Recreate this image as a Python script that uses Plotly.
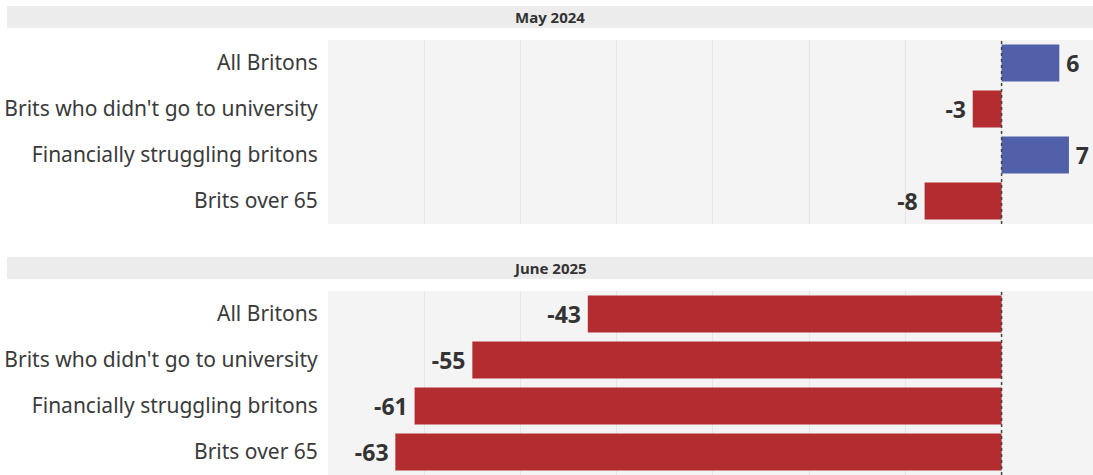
import plotly.graph_objects as go

categories = ["All Britons", "Brits who didn't go to university",
              "Financially struggling britons", "Brits over 65"]
may_2024 = [6, -3, 7, -8]
june_2025 = [-43, -55, -61, -63]
panel_titles = ["May 2024", "June 2025"]

BLUE = "#5061aa"
RED = "#b22c30"
TEXT = "#333333"
FONT = "Noto Sans"

fig = go.Figure()

# pixel layout of the two panels (paper coords)
H = 475
panels = [
    dict(vals=may_2024, plot=(40, 224), strip=(6, 28)),
    dict(vals=june_2025, plot=(291, 475), strip=(257, 279)),
]

for i, p in enumerate(panels):
    n = "" if i == 0 else str(i + 1)
    colors = [BLUE if v > 0 else RED for v in p["vals"]]
    # thin space pads the label away from the bar end
    labels = ["\u2009" + str(v) if v > 0 else str(v) + "\u2009" for v in p["vals"]]
    fig.add_trace(go.Bar(
        x=p["vals"], y=categories, orientation="h",
        marker=dict(color=colors, line=dict(width=0)),
        text=labels, texttemplate="%{text}",
        textposition="outside",
        textfont=dict(family=FONT, size=23, color=TEXT, weight="bold"),
        cliponaxis=False, showlegend=False,
        xaxis="x" + n, yaxis="y" + n,
    ))
    y0, y1 = 1 - p["plot"][1] / H, 1 - p["plot"][0] / H
    fig.layout["xaxis" + n] = dict(
        domain=[328 / 1093, 1], range=[-70, 9.5], dtick=10,
        showgrid=True, gridcolor="#e6e6e6", gridwidth=1,
        zeroline=False, showticklabels=False, fixedrange=True,
        anchor="y" + n,
    )
    fig.layout["yaxis" + n] = dict(
        domain=[y0, y1], range=[3.5, -0.5], anchor="x" + n,
        showgrid=False, zeroline=False, ticks="outside", ticklen=5,
        tickcolor="rgba(0,0,0,0)", fixedrange=True,
        tickfont=dict(family=FONT, size=21, color="#3a3a3a"),
    )
    # header strip
    s0, s1 = 1 - p["strip"][1] / H, 1 - p["strip"][0] / H
    fig.add_shape(type="rect", xref="paper", yref="paper",
                  x0=7 / 1093, x1=1, y0=s0, y1=s1,
                  fillcolor="#ececec", line=dict(width=0), layer="below")
    fig.add_annotation(text="<b>" + panel_titles[i] + "</b>", xref="paper", yref="paper",
                       x=(7 / 1093 + 1) / 2, y=(s0 + s1) / 2, showarrow=False,
                       xanchor="center", yanchor="middle",
                       font=dict(family=FONT, size=15, color=TEXT))
    # dotted zero line
    fig.add_shape(type="line", xref="x" + n, yref="y" + n + " domain",
                  x0=0, x1=0, y0=0, y1=1,
                  line=dict(color="#444444", width=1.5, dash="dot"))

fig.update_layout(
    width=1093, height=475,
    margin=dict(l=0, r=0, t=0, b=0),
    paper_bgcolor="white", plot_bgcolor="#f4f4f4",
    bargap=0.2,
    font=dict(family=FONT, color=TEXT),
)

fig.write_html("out.html", config={"displayModeBar": False},
               post_script="document.body.style.margin='0';"
               "document.body.style.overflow='hidden';")
